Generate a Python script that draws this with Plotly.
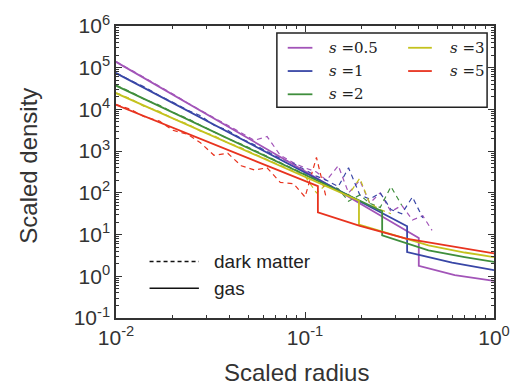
import plotly.graph_objects as go

# ---------------- data (log10 of scaled density) ----------------
labels = ["s =0.5", "s =1", "s =2", "s =3", "s =5"]
colors = ["#a254b8", "#3846a6", "#3f8e3c", "#c4c21e", "#e8331f"]

gas_r = [
    [0.01, 0.1, 0.40, 0.40, 0.62, 1.0],
    [0.01, 0.1, 0.347, 0.347, 0.6, 1.0],
    [0.01, 0.1, 0.256, 0.256, 0.45, 0.7, 1.0],
    [0.01, 0.1, 0.193, 0.193, 0.45, 0.7, 1.0],
    [0.01, 0.117, 0.117, 0.195, 0.343, 0.6, 1.0],
]
gas_logrho = [
    [5.14, 2.52, 0.92, 0.25, 0.03, -0.11],
    [4.87, 2.49, 1.20, 0.58, 0.33, 0.147],
    [4.57, 2.43, 1.56, 0.98, 0.62, 0.46, 0.344],
    [4.39, 2.39, 1.81, 1.24, 0.74, 0.57, 0.46],
    [4.11, 2.16, 1.53, 1.21, 0.90, 0.72, 0.55],
]

dm_r_grid = [0.010, 0.012, 0.014, 0.017, 0.020, 0.024, 0.028, 0.033, 0.039,
             0.046, 0.054, 0.063, 0.074, 0.087, 0.10, 0.115, 0.13, 0.15,
             0.17, 0.195, 0.22, 0.25, 0.285, 0.325, 0.37, 0.42, 0.47]
dm_logrho = [
    [5.15, 4.95, 4.78, 4.55, 4.37, 4.15, 3.99, 3.80, 3.62, 3.43, 3.26, 3.35,
     2.90, 2.72, 2.60, 2.50, 2.30, 2.65, 2.00, 2.30, 1.75, 2.00, 1.55, 1.70,
     1.35, 1.45, 1.10],
    [4.88, 4.69, 4.55, 4.33, 4.17, 3.98, 3.85, 3.62, 3.50, 3.30, 3.15, 3.00,
     2.83, 2.70, 2.55, 2.40, 2.30, 2.15, 2.60, 1.95, 1.85, 2.00, 1.60, 1.50,
     1.90, 1.40],
    [4.58, 4.42, 4.25, 4.10, 3.93, 3.78, 3.62, 3.46, 3.30, 3.17, 3.02, 2.88,
     2.73, 2.58, 2.45, 2.33, 2.20, 2.10, 1.80, 1.95, 1.75, 1.65, 2.15, 1.70],
    [4.40, 4.25, 4.08, 3.95, 3.78, 3.65, 3.48, 3.37, 3.20, 3.08, 2.93, 2.80,
     2.66, 2.52, 2.40, 2.00, 2.20, 2.05, 1.95, 2.35, 1.75, 1.60, 1.50],
    [4.12, 4.00, 3.83, 3.72, 3.50, 3.40, 3.20, 2.90, 2.95, 2.65, 2.55, 2.60,
     2.25, 2.22, 1.90, 2.85, 1.85],
]

y_tickvals = [0.1, 1, 10, 100, 1e3, 1e4, 1e5, 1e6]
y_ticktext = ["10<sup>-1</sup>", "10<sup>0</sup>", "10<sup>1</sup>", "10<sup>2</sup>",
              "10<sup>3</sup>", "10<sup>4</sup>", "10<sup>5</sup>", "10<sup>6</sup>"]
x_tickvals = [0.01, 0.1, 1]
x_ticktext = ["10<sup>-2</sup>", "10<sup>-1</sup>", "10<sup>0</sup>"]
x_title = "Scaled radius"
y_title = "Scaled density"

# ---------------- figure ----------------
SANS = "Liberation Sans, Arial, sans-serif"
fig = go.Figure()
for i in range(len(labels)):
    n = len(dm_logrho[i])
    fig.add_trace(go.Scatter(
        x=dm_r_grid[:n], y=[10 ** v for v in dm_logrho[i]], mode="lines",
        line=dict(color=colors[i], width=1.2, dash="5px,4px"),
        showlegend=False, hoverinfo="skip"))
for i in range(len(labels)):
    fig.add_trace(go.Scatter(
        x=gas_r[i], y=[10 ** v for v in gas_logrho[i]], mode="lines",
        line=dict(color=colors[i], width=1.8),
        name=labels[i], showlegend=False))

axis_common = dict(
    type="log", showline=True, linecolor="#333333", linewidth=1.5, mirror="ticks",
    ticks="inside", ticklen=6, tickwidth=1, tickcolor="#333333",
    showgrid=False, zeroline=False,
    tickfont=dict(family=SANS, size=21, color="#333333"),
    minor=dict(ticks="inside", ticklen=3, tickwidth=1, tickcolor="#333333",
               dtick="D1", showgrid=False),
)
fig.update_xaxes(range=[-2, 0], tickmode="array", tickvals=x_tickvals,
                 ticktext=x_ticktext, **axis_common)
fig.update_yaxes(range=[-1, 6], tickmode="array", tickvals=y_tickvals,
                 ticktext=y_ticktext, **axis_common)

shapes = []
annotations = []
W, H = 522, 392
L, R, T, B = 116, 23, 23, 74
pw, ph = W - L - R, H - T - B


def px(x):
    return (x - L) / pw


def py(y):
    return 1 - (y - T) / ph


# axis titles
annotations.append(dict(xref="paper", yref="paper", x=px(299), y=py(373),
                        xanchor="center", yanchor="middle", showarrow=False,
                        text=x_title, font=dict(family=SANS, size=24, color="#333333")))
annotations.append(dict(xref="paper", yref="paper", x=px(27), y=py(164),
                        xanchor="center", yanchor="middle", showarrow=False, textangle=-90,
                        text=y_title, font=dict(family=SANS, size=24, color="#333333")))

# colour legend box
shapes.append(dict(type="rect", xref="paper", yref="paper",
                   x0=px(279), x1=px(492), y0=py(105), y1=py(30),
                   line=dict(color="#222222", width=1.5), fillcolor="white", layer="above"))
leg_pos = [(0, 0), (0, 1), (0, 2), (1, 0), (1, 1)]
for i, (col, row) in enumerate(leg_pos):
    yy = 45 + row * 23.5
    lx0, lx1, tx = (290, 315, 330) if col == 0 else (412, 436, 452)
    shapes.append(dict(type="line", xref="paper", yref="paper",
                       x0=px(lx0), x1=px(lx1), y0=py(yy), y1=py(yy),
                       line=dict(color=colors[i], width=1.8), layer="above"))
    s_lab = labels[i].split("=")[1]
    annotations.append(dict(xref="paper", yref="paper", x=px(tx), y=py(yy),
                            xanchor="left", yanchor="middle", showarrow=False,
                            text="<i>s</i> =" + s_lab,
                            font=dict(family="DejaVu Serif, serif", size=15, color="#222222")))

# line-style legend
for yy, dash, txt in [(261, "dash", "dark matter"), (288, "solid", "gas")]:
    shapes.append(dict(type="line", xref="paper", yref="paper",
                       x0=px(150), x1=px(200), y0=py(yy), y1=py(yy),
                       line=dict(color="#111111", width=1.5,
                                 dash="4px,3px" if dash == "dash" else "solid")))
    annotations.append(dict(xref="paper", yref="paper", x=px(213), y=py(yy),
                            xanchor="left", yanchor="middle", showarrow=False, text=txt,
                            font=dict(family=SANS, size=19, color="#222222")))

fig.update_layout(
    width=W, height=H, margin=dict(l=L, r=R, t=T, b=B),
    paper_bgcolor="white", plot_bgcolor="white",
    shapes=shapes, annotations=annotations, showlegend=False,
)
fig.write_html("out.html")
